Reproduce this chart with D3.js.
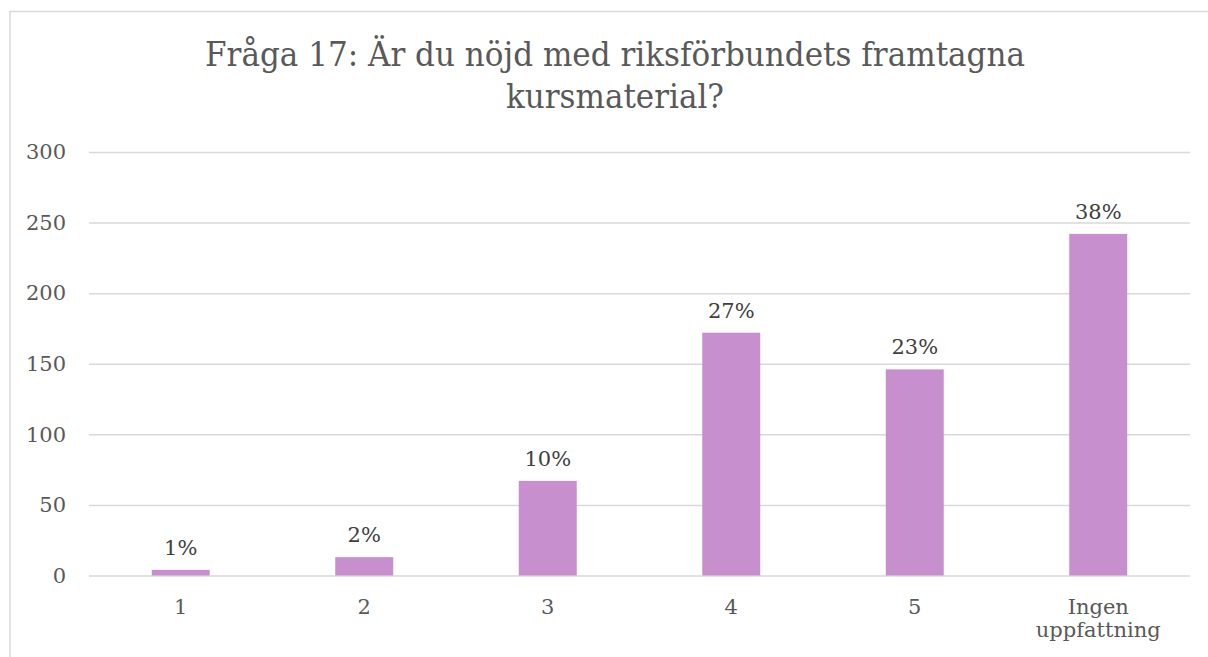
<!DOCTYPE html>
<html>
<head>
<meta charset="utf-8">
<script src="https://cdnjs.cloudflare.com/ajax/libs/d3/7.8.5/d3.min.js"></script>
<style>
  body { margin: 0; background: #fff; }
  svg { display: block; font-family: "DejaVu Serif", "Liberation Serif", serif; }
</style>
</head>
<body>
<script>
// Chart data
var categories = ["1", "2", "3", "4", "5", "Ingen uppfattning"];
var counts = [4, 13, 67, 172, 146, 242];
var percentLabels = ["1%", "2%", "10%", "27%", "23%", "38%"];
var yTicks = [0, 50, 100, 150, 200, 250, 300];
var titleLines = ["Fråga 17: Är du nöjd med riksförbundets framtagna", "kursmaterial?"];
var titleWidths = [820, 218];

var svgWidth = 1208;
var svgHeight = 657;
var margin = { top: 152, right: 18, bottom: 81.5, left: 89 };

var width = svgWidth - margin.left - margin.right;
var height = svgHeight - margin.top - margin.bottom;

var svg = d3.select("body")
  .append("svg")
  .attr("width", svgWidth)
  .attr("height", svgHeight);

// chart border
svg.append("rect")
  .attr("x", 10)
  .attr("y", 11.5)
  .attr("width", 1300)
  .attr("height", 800)
  .attr("fill", "none")
  .attr("stroke", "#d9d9d9")
  .attr("stroke-width", 1.5);

// title, slightly condensed to match the original face
svg.selectAll(".title")
  .data(titleLines)
  .enter()
  .append("text")
  .attr("class", "title")
  .attr("text-anchor", "middle")
  .attr("fill", "#595959")
  .attr("font-size", "34px")
  .attr("x", 615)
  .attr("y", function (d, i) { return 66 + i * 42; })
  .attr("textLength", function (d, i) { return titleWidths[i]; })
  .attr("lengthAdjust", "spacingAndGlyphs")
  .text(function (d) { return d; });

var chartGroup = svg.append("g")
  .attr("transform", `translate(${margin.left}, ${margin.top})`);

var xScale = d3.scaleBand()
  .domain(categories)
  .range([0, width])
  .paddingInner(0.684)
  .paddingOuter(0.342);

var yScale = d3.scaleLinear()
  .domain([0, 300])
  .range([height, 0]);

// gridlines
chartGroup.append("g")
  .attr("class", "grid")
  .call(d3.axisLeft(yScale).tickValues(yTicks).tickSize(-width).tickFormat(""))
  .call(function (g) { g.select(".domain").remove(); })
  .selectAll("line")
  .attr("stroke", "#d9d9d9")
  .attr("stroke-width", 1.5);

// y-axis labels
var yAxis = chartGroup.append("g")
  .attr("transform", "translate(-23,0)")
  .call(d3.axisLeft(yScale).tickValues(yTicks).tickSize(0).tickPadding(0));
yAxis.select(".domain").remove();
yAxis.selectAll("text")
  .attr("font-family", "DejaVu Serif, serif")
  .attr("font-size", "21px")
  .attr("fill", "#595959");

// bars
chartGroup.selectAll(".bar")
  .data(counts)
  .enter()
  .append("rect")
  .attr("class", "bar")
  .attr("x", function (d, i) { return xScale(categories[i]); })
  .attr("y", function (d) { return yScale(d); })
  .attr("width", xScale.bandwidth())
  .attr("height", function (d) { return height - yScale(d); })
  .attr("fill", "#c78fce");

// data labels
chartGroup.selectAll(".barLabel")
  .data(counts)
  .enter()
  .append("text")
  .attr("class", "barLabel")
  .attr("x", function (d, i) { return xScale(categories[i]) + xScale.bandwidth() / 2; })
  .attr("y", function (d) { return yScale(d) - 15; })
  .attr("text-anchor", "middle")
  .attr("font-size", "21px")
  .attr("fill", "#404040")
  .text(function (d, i) { return percentLabels[i]; });

// x-axis labels (wrap on spaces)
var xLabels = chartGroup.selectAll(".xLabel")
  .data(categories)
  .enter()
  .append("text")
  .attr("class", "xLabel")
  .attr("text-anchor", "middle")
  .attr("font-size", "21px")
  .attr("fill", "#595959");

xLabels.each(function (d) {
  var words = d.split(" ");
  var cx = xScale(d) + xScale.bandwidth() / 2;
  d3.select(this).selectAll("tspan")
    .data(words)
    .enter()
    .append("tspan")
    .attr("x", cx)
    .attr("y", function (w, i) { return height + 38 + i * 23; })
    .text(function (w) { return w; });
});
</script>
</body>
</html>
